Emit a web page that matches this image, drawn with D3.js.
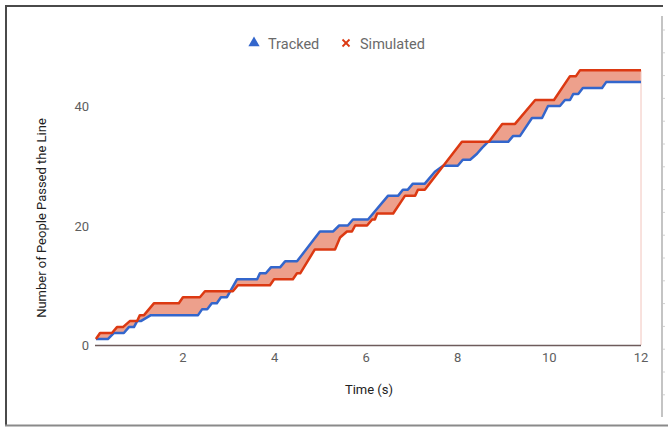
<!DOCTYPE html>
<html lang="en">
<head>
    <meta charset="UTF-8">
    <title>Tracked vs Simulated</title>
    <style>
        body { margin: 0; background: #fff; }
        text { font-family: Roboto, "Noto Sans", Arial, sans-serif; }
    </style>
</head>
<body>
    <div id="container"></div>

    <script type="text/javascript" src="https://d3js.org/d3.v7.min.js"></script>
    <script type="text/javascript">
        // Corner points of each step line.
        var trackedTime = [0.10, 0.36, 0.49, 0.71, 0.82, 0.93, 1.00, 1.08, 1.30, 2.33, 2.42, 2.53, 2.63, 2.74, 2.83, 2.96,
            3.18, 3.62, 3.68, 3.81, 3.92, 4.12, 4.23, 4.49, 4.99, 5.28, 5.41, 5.60, 5.71, 6.04, 6.48, 6.70, 6.80, 6.91,
            7.02, 7.28, 7.50, 7.68, 8.00, 8.11, 8.27, 8.42, 8.53, 8.66, 9.10, 9.21, 9.36, 9.62, 9.84, 9.97, 10.23, 10.34,
            10.45, 10.52, 10.63, 10.73, 11.15, 11.24, 12.00];
        var trackedCount = [1, 1, 2, 2, 3, 3, 4, 4, 5, 5, 6, 6, 7, 7, 8, 8,
            11, 11, 12, 12, 13, 13, 14, 14, 19, 19, 20, 20, 21, 21, 25, 25, 26, 26,
            27, 27, 29, 30, 30, 31, 31, 32, 33, 34, 34, 35, 35, 38, 38, 40, 40, 41,
            41, 42, 42, 43, 43, 44, 44];

        var simulatedTime = [0.10, 0.19, 0.45, 0.56, 0.69, 0.84, 1.00, 1.06, 1.15, 1.37, 1.91, 2.00, 2.37, 2.48, 3.09, 3.20,
            3.90, 3.99, 4.40, 4.49, 4.56, 4.88, 5.32, 5.43, 5.58, 5.69, 5.76, 6.02, 6.13, 6.19, 6.24, 6.59, 6.85, 7.07,
            7.13, 7.28, 8.09, 8.68, 8.97, 9.25, 9.69, 10.10, 10.45, 10.58, 10.67, 12.00];
        var simulatedCount = [1, 2, 2, 3, 3, 4, 4, 5, 5, 7, 7, 8, 8, 9, 9, 10,
            10, 11, 11, 12, 12, 16, 16, 18, 19, 19, 20, 20, 21, 21, 22, 22, 25, 25,
            26, 26, 34, 34, 37, 37, 41, 41, 45, 45, 46, 46];

        var xTicks = [2, 4, 6, 8, 10, 12];
        var yTicks = [0, 20, 40];

        var seriesNames = ["Tracked", "Simulated"];
        var seriesColors = ["#3366cc", "#dc3912"];

        var width = 668, height = 427;

        var svg = d3.select("#container")
            .append("svg")
            .attr("width", width)
            .attr("height", height);

        // Frame around the screenshot.
        var frame = svg.append("g").attr("class", "frame");
        frame.append("line").attr("x1", 5).attr("y1", 6).attr("x2", 663).attr("y2", 6)
            .attr("stroke", "#4a4a4a").attr("stroke-width", 2);
        frame.append("line").attr("x1", 6).attr("y1", 5).attr("x2", 6).attr("y2", 426)
            .attr("stroke", "#4a4a4a").attr("stroke-width", 2);
        frame.append("line").attr("x1", 5).attr("y1", 425.5).attr("x2", 668).attr("y2", 425.5)
            .attr("stroke", "#8a8a8a").attr("stroke-width", 2);
        frame.append("line").attr("x1", 662).attr("y1", 16).attr("x2", 662).attr("y2", 417)
            .attr("stroke", "#b0b0b0").attr("stroke-width", 1.5);
        frame.selectAll("line.rule")
            .data(d3.range(17))
            .enter()
            .append("line")
            .attr("class", "rule")
            .attr("x1", 663).attr("x2", 665)
            .attr("y1", function(d) { return 30 + d * 22.8; })
            .attr("y2", function(d) { return 30 + d * 22.8; })
            .attr("stroke", "#d0d0d0");

        var x = d3.scaleLinear().domain([0.08, 12]).range([95, 641]);
        var y = d3.scaleLinear().domain([0, 40]).range([345, 106]);

        var tracked = trackedTime.map(function(t, i) { return [t, trackedCount[i]]; });
        var simulated = simulatedTime.map(function(t, i) { return [t, simulatedCount[i]]; });

        var line = d3.line()
            .x(function(d) { return x(d[0]); })
            .y(function(d) { return y(d[1]); });

        // Band between the two series: simulated forward, tracked back.
        var band = simulated.concat(tracked.slice().reverse());
        svg.append("path")
            .attr("d", line(band) + "Z")
            .attr("fill", "#eda08c")
            .attr("stroke", "none");

        // Thin edge at the end of the band down to zero.
        svg.append("line")
            .attr("x1", x(12)).attr("x2", x(12))
            .attr("y1", y(46)).attr("y2", y(0))
            .attr("stroke", "#f2c4bc")
            .attr("stroke-width", 1);

        // Zero baseline.
        svg.append("line")
            .attr("x1", x(0.08)).attr("x2", x(12))
            .attr("y1", y(0) + 0.5).attr("y2", y(0) + 0.5)
            .attr("stroke", "#6e5c5c")
            .attr("stroke-width", 1.5);

        [tracked, simulated].forEach(function(data, i) {
            svg.append("path")
                .attr("d", line(data))
                .attr("fill", "none")
                .attr("stroke", seriesColors[i])
                .attr("stroke-width", 2.5)
                .attr("stroke-linejoin", "round");
        });

        // Axis labels.
        svg.append("g")
            .selectAll("text")
            .data(yTicks)
            .enter()
            .append("text")
            .attr("x", 89)
            .attr("y", function(d) { return y(d) + 5; })
            .attr("text-anchor", "end")
            .attr("font-size", 13)
            .attr("fill", "#5e5e5e")
            .text(function(d) { return d; });

        svg.append("g")
            .selectAll("text")
            .data(xTicks)
            .enter()
            .append("text")
            .attr("x", function(d) { return x(d); })
            .attr("y", 362)
            .attr("text-anchor", "middle")
            .attr("font-size", 13)
            .attr("fill", "#5e5e5e")
            .text(function(d) { return d; });

        svg.append("text")
            .attr("x", 369)
            .attr("y", 394)
            .attr("text-anchor", "middle")
            .attr("font-size", 13)
            .attr("fill", "#222")
            .text("Time (s)");

        svg.append("text")
            .attr("transform", "translate(46, 218) rotate(-90)")
            .attr("text-anchor", "middle")
            .attr("font-size", 13)
            .attr("fill", "#222")
            .text("Number of People Passed the Line");

        // Legend.
        var legend = svg.append("g").attr("class", "legend");
        legend.append("path")
            .attr("d", d3.symbol(d3.symbolTriangle).size(55)())
            .attr("transform", "translate(254, 43)")
            .attr("fill", seriesColors[0]);
        legend.append("text")
            .attr("x", 268).attr("y", 48.5)
            .attr("font-size", 14.5)
            .attr("fill", "#6a6a6a")
            .text(seriesNames[0]);

        var cross = legend.append("g").attr("transform", "translate(346, 43)");
        cross.append("line").attr("x1", -3.5).attr("y1", -3.5).attr("x2", 3.5).attr("y2", 3.5);
        cross.append("line").attr("x1", -3.5).attr("y1", 3.5).attr("x2", 3.5).attr("y2", -3.5);
        cross.selectAll("line").attr("stroke", seriesColors[1]).attr("stroke-width", 1.8);
        legend.append("text")
            .attr("x", 360).attr("y", 48.5)
            .attr("font-size", 14.5)
            .attr("fill", "#6a6a6a")
            .text(seriesNames[1]);
    </script>
</body>
</html>
